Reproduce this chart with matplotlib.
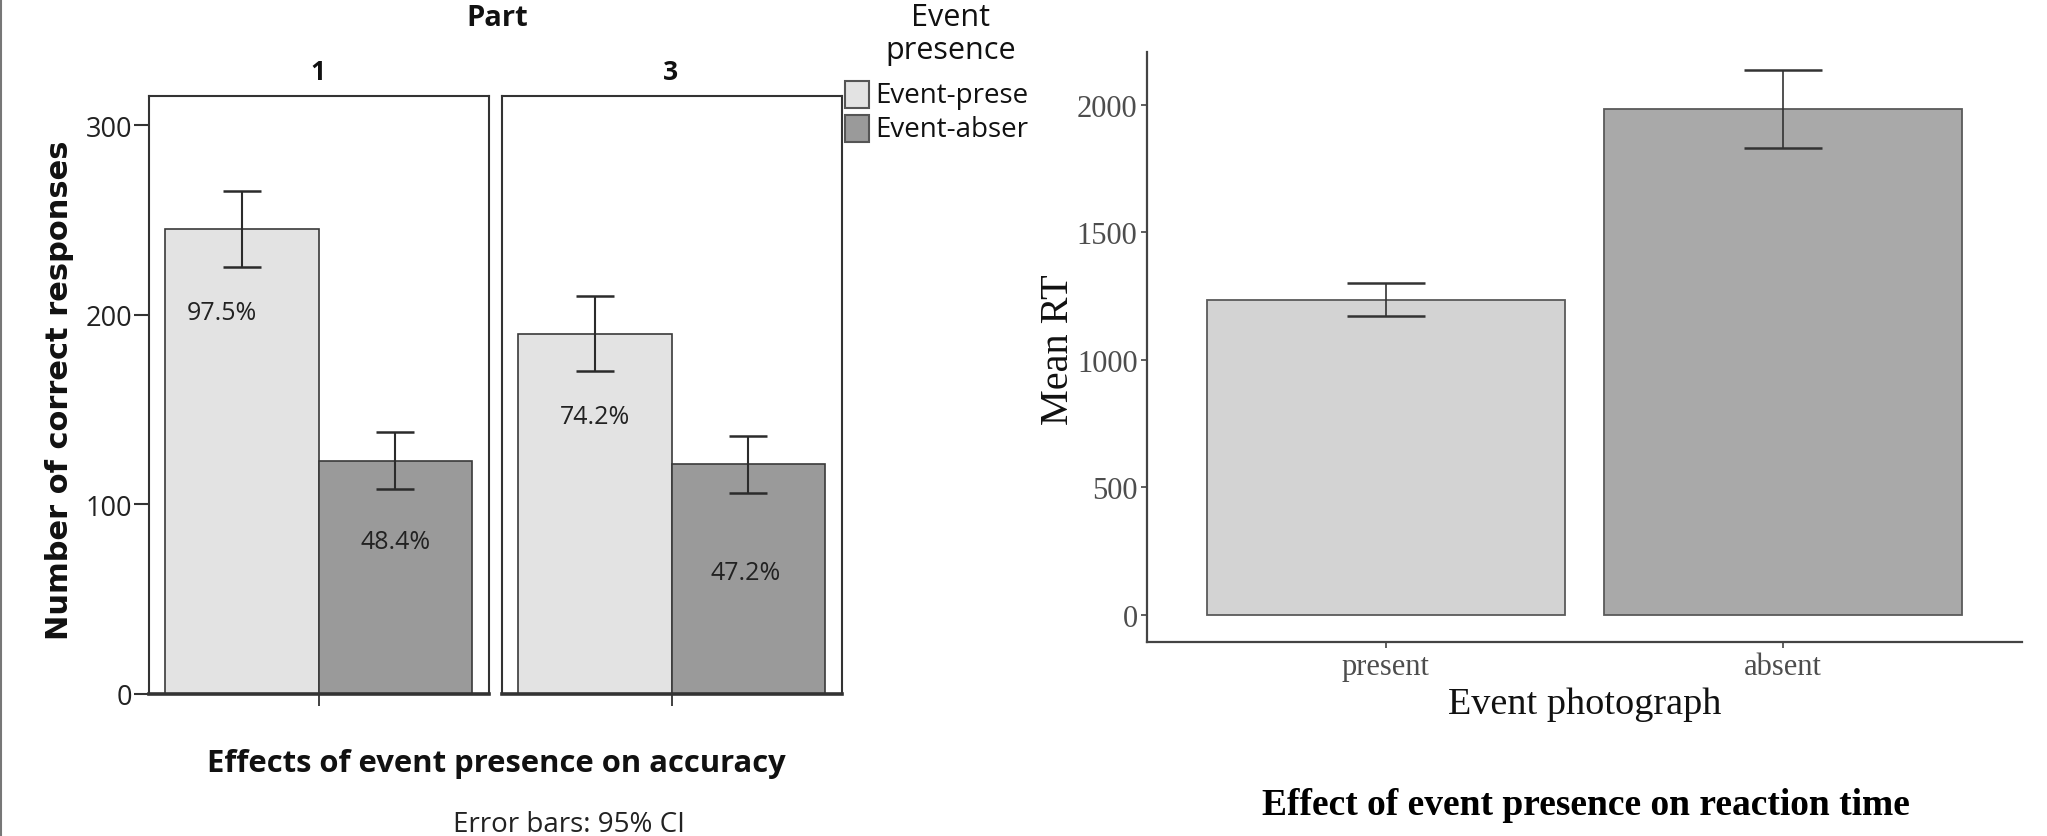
import matplotlib
matplotlib.use("Agg")
import matplotlib.pyplot as plt
from matplotlib.patches import Rectangle
from matplotlib.lines import Line2D

# ---------------- data ----------------
parts = ["1", "3"]
presence_levels = ["Event-prese", "Event-abser"]
correct_present = [245, 190]
correct_absent = [123, 121]
ci_present = [20, 20]
ci_absent = [15, 15]
pct_present = ["97.5%", "74.2%"]
pct_absent = ["48.4%", "47.2%"]
acc_yticks = [0, 100, 200, 300]

rt_categories = ["present", "absent"]
rt_means = [1235, 1982]
rt_ci = [65, 154]
rt_yticks = [0, 500, 1000, 1500, 2000]

# ---------------- layout helpers ----------------
W, H = 2047, 837
fig = plt.figure(figsize=(W / 100, H / 100), dpi=100)
fig.patch.set_facecolor("white")


def fx(x):
    return x / W


def fy(y):
    return 1 - y / H


def axrect(l, t, r, b):
    return [l / W, 1 - b / H, (r - l) / W, (b - t) / H]


SANS = ["Open Sans", "DejaVu Sans"]
SERIF = ["Liberation Serif", "DejaVu Serif"]
c_pres, c_abs = "#E3E3E3", "#9A9A9A"

# label placement (annotation layout, data units)
pct_present_pos = [(-0.13, 201), (0.0, 146)]
pct_absent_pos = [(0.0, 80), (-0.02, 64)]

# ---------------- left: faceted accuracy chart ----------------
facet_boxes = [(148.7, 488.8), (501.6, 841.8)]
for i, part in enumerate(parts):
    l, r = facet_boxes[i]
    ax = fig.add_axes(axrect(l, 96.7, r, 694.6))
    xs = [0, 1]
    vals = [correct_present[i], correct_absent[i]]
    errs = [ci_present[i], ci_absent[i]]
    ax.bar(xs, vals, width=1.0, color=[c_pres, c_abs], edgecolor="#3a3a3a",
           linewidth=1.2, zorder=2)
    ax.errorbar(xs, vals, yerr=errs, fmt="none", ecolor="#2b2b2b",
                elinewidth=1.5, capsize=13.7, capthick=1.8, zorder=3)
    ax.set_xlim(-0.609, 1.61)
    ax.set_ylim(0, 315.5)
    for s in ax.spines.values():
        s.set_color("#333333")
        s.set_linewidth(1.5)
    ax.spines["bottom"].set_linewidth(2.6)
    ax.set_xticks([0.5])
    ax.set_xticklabels([""])
    ax.tick_params(axis="x", length=8.6, width=1.3, color="#333333")
    if i == 0:
        ax.set_yticks(acc_yticks)
        ax.set_yticklabels([str(t) for t in acc_yticks], fontsize=19.5,
                           family=SANS, color="#222222")
        ax.tick_params(axis="y", length=10.8, width=1.5, color="#333333", pad=1)
    else:
        ax.set_yticks([])
    # percentage labels
    dx, yv = pct_present_pos[i]
    ax.text(0 + dx, yv, pct_present[i], ha="center", va="center",
            fontsize=18, family=SANS, color="#222222", zorder=4)
    dx, yv = pct_absent_pos[i]
    ax.text(1 + dx, yv, pct_absent[i], ha="center", va="center",
            fontsize=18, family=SANS, color="#222222", zorder=4)
    # facet strip label
    fig.text(fx((l + r) / 2 - 1), fy(73), part, ha="center", va="center",
             fontsize=19, fontweight="bold", family=SANS, color="#111111")

fig.text(fx(497), fy(18), "Part", ha="center", va="center", fontsize=21,
         fontweight="bold", family=SANS, color="#111111")

# legend (manual)
fig.text(fx(951), fy(18), "Event", ha="center", va="center", fontsize=22,
         family=SANS, color="#111111")
fig.text(fx(951), fy(51), "presence", ha="center", va="center", fontsize=22,
         family=SANS, color="#111111")
leg_rows = [(82, c_pres), (116, c_abs)]
for (top, col), lab in zip(leg_rows, presence_levels):
    fig.add_artist(Rectangle((fx(845), fy(top + 27.3)), 24 / W, 27.3 / H,
                             transform=fig.transFigure, facecolor=col,
                             edgecolor="#555555", linewidth=1.5))
    fig.text(fx(875), fy(top + 14), lab, ha="left", va="center", fontsize=20,
             family=SANS, color="#111111")

fig.text(fx(60), fy(390), "Number of correct responses", rotation=90,
         ha="center", va="center", fontsize=22, fontweight="bold",
         family=["DejaVu Sans"], color="#111111")
fig.text(fx(496), fy(764), "Effects of event presence on accuracy",
         ha="center", va="center", fontsize=22.3, fontweight="bold",
         family=SANS, color="#111111")
fig.text(fx(569), fy(825), "Error bars: 95% CI", ha="center", va="center",
         fontsize=20, family=SANS, color="#222222")

# ---------------- right: reaction time chart ----------------
axr = fig.add_axes(axrect(1147.3, 52.7, 2021.6, 643.3))
xr = list(range(len(rt_categories)))
axr.bar(xr, rt_means, width=0.9, color=["#D3D3D3", "#A9A9A9"],
        edgecolor="#5a5a5a", linewidth=1.3, zorder=2)
axr.errorbar(xr, rt_means, yerr=rt_ci, fmt="none", ecolor="#333333",
             elinewidth=1.2, capsize=28, capthick=1.8, zorder=3)
axr.set_xlim(-0.6, 1.6)
axr.set_ylim(-108, 2207)
for s in ["top", "right"]:
    axr.spines[s].set_visible(False)
for s in ["left", "bottom"]:
    axr.spines[s].set_color("#444444")
    axr.spines[s].set_linewidth(1.6)
axr.set_yticks(rt_yticks)
axr.set_yticklabels([str(t) for t in rt_yticks], fontsize=22, family=SERIF,
                    color="#4D4D4D")
axr.set_xticks(xr)
axr.set_xticklabels(rt_categories, fontsize=22, family=SERIF, color="#4D4D4D")
axr.tick_params(axis="both", length=4, width=1.2, color="#444444", pad=3)

fig.text(fx(1058), fy(350), "Mean RT", rotation=90, ha="center", va="center",
         fontsize=29, family=SERIF, color="#111111")
fig.text(fx(1585), fy(705), "Event photograph", ha="center", va="center",
         fontsize=27.5, family=SERIF, color="#111111")
fig.text(fx(1586), fy(806), "Effect of event presence on reaction time",
         ha="center", va="center", fontsize=27, fontweight="bold",
         family=SERIF, color="#000000")

# thin frame line at far left of the image
fig.add_artist(Line2D([fx(1), fx(1)], [0, 1], transform=fig.transFigure,
                      color="#777777", linewidth=1.5))

fig.savefig("out.png", dpi=100, facecolor="white")
